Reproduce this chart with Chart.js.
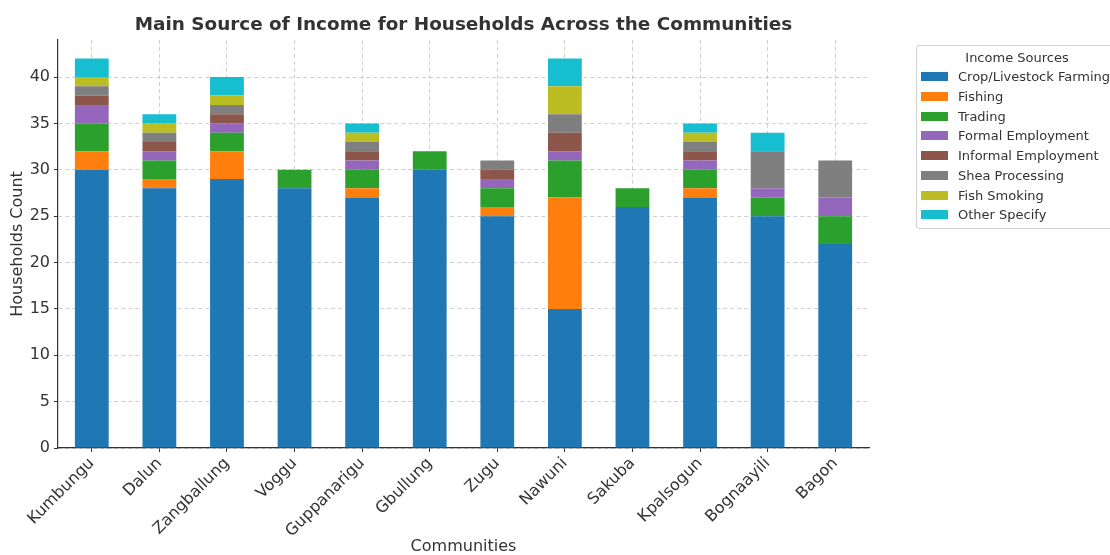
<!DOCTYPE html>
<html>
<head>
<meta charset="utf-8">
<script src="https://cdn.jsdelivr.net/npm/chart.js@4/dist/chart.umd.min.js"></script>
<style>
  html, body { margin: 0; padding: 0; background: #fff; overflow: hidden; width: 1110px; height: 555px; }
  #wrap { position: relative; width: 1110px; height: 555px; }
  canvas { position: absolute; left: 0; top: 0; }
  #legend {
    position: absolute; left: 916px; top: 45px; width: 215px; height: 184px;
    border: 1px solid #d0d0d0; border-radius: 3px; background: rgba(255,255,255,0.9);
    font-family: "DejaVu Sans", sans-serif; font-size: 13px; color: #333; box-sizing: border-box;
  }
  #legend .ttl { position: absolute; top: 4px; left: 0; width: 200px; text-align: center; }
  #legend .row { position: absolute; left: 4px; height: 20px; line-height: 20px; white-space: nowrap; }
  #legend .sw { display: inline-block; width: 27px; height: 9px; vertical-align: middle; margin-right: 10px; position: relative; top: -1px; }
</style>
</head>
<body>
<div id="wrap">
  <canvas id="c" width="1110" height="555"></canvas>
  <div id="legend"></div>
</div>
<script>
// Communities on the x axis
const communities = ["Kumbungu", "Dalun", "Zangballung", "Voggu", "Guppanarigu", "Gbullung",
                     "Zugu", "Nawuni", "Sakuba", "Kpalsogun", "Bognaayili", "Bagon"];

// Household counts per income source, one value per community
const cropLivestock   = [30, 28, 29, 28, 27, 30, 25, 15, 26, 27, 25, 22];
const fishing         = [ 2,  1,  3,  0,  1,  0,  1, 12,  0,  1,  0,  0];
const trading         = [ 3,  2,  2,  2,  2,  2,  2,  4,  2,  2,  2,  3];
const formalEmploy    = [ 2,  1,  1,  0,  1,  0,  1,  1,  0,  1,  1,  2];
const informalEmploy  = [ 1,  1,  1,  0,  1,  0,  1,  2,  0,  1,  0,  0];
const sheaProcessing  = [ 1,  1,  1,  0,  1,  0,  1,  2,  0,  1,  4,  4];
const fishSmoking     = [ 1,  1,  1,  0,  1,  0,  0,  3,  0,  1,  0,  0];
const otherSpecify    = [ 2,  1,  2,  0,  1,  0,  0,  3,  0,  1,  2,  0];

const sourceNames = ["Crop/Livestock Farming", "Fishing", "Trading", "Formal Employment",
                     "Informal Employment", "Shea Processing", "Fish Smoking", "Other Specify"];
const sourceValues = [cropLivestock, fishing, trading, formalEmploy,
                      informalEmploy, sheaProcessing, fishSmoking, otherSpecify];
const sourceColors = ["#1f77b4", "#ff7f0e", "#2ca02c", "#9467bd",
                      "#8c564b", "#7f7f7f", "#bcbd22", "#17becf"];

const yTickStep = 5;
const yMax = 44;

const FONT = "'DejaVu Sans', sans-serif";
const TEXT = "#333333";
const GRID = "rgba(170,170,170,0.55)";

const datasets = sourceNames.map((name, i) => ({
  label: name,
  data: sourceValues[i],
  backgroundColor: sourceColors[i],
  borderWidth: 0,
  barPercentage: 0.5,
  categoryPercentage: 1.0
}));

const chart = new Chart(document.getElementById("c"), {
  type: "bar",
  data: { labels: communities, datasets },
  options: {
    responsive: false,
    animation: false,
    devicePixelRatio: 1,
    layout: { padding: { left: 0, right: 241, top: 0, bottom: 0 } },
    plugins: {
      legend: { display: false },
      tooltip: { enabled: false },
      title: {
        display: true,
        fullSize: false,
        text: "Main Source of Income for Households Across the Communities",
        color: TEXT,
        font: { family: FONT, size: 18.4, weight: "bold", lineHeight: 1.2 },
        padding: { top: 14, bottom: 3.9 }
      }
    },
    scales: {
      x: {
        stacked: true,
        z: 1,
        grid: {
          display: true, offset: false, drawOnChartArea: true, drawTicks: true,
          color: GRID, lineWidth: 1, tickLength: 4, tickColor: TEXT, tickWidth: 1
        },
        border: { display: true, color: TEXT, width: 1.2, dash: [4, 3] },
        ticks: {
          color: TEXT, font: { family: FONT, size: 16 },
          minRotation: 45, maxRotation: 45, padding: 2, autoSkip: false
        },
        title: {
          display: true, text: "Communities", color: TEXT,
          font: { family: FONT, size: 16, lineHeight: 1.2 }, padding: { top: 0, bottom: -1 }
        },
        afterFit: (s) => { s.height = 107; }
      },
      y: {
        stacked: true,
        min: 0,
        max: yMax,
        z: 1,
        grid: {
          display: true, drawTicks: true, color: GRID, lineWidth: 1,
          tickLength: 4, tickColor: TEXT, tickWidth: 1
        },
        border: { display: true, color: TEXT, width: 1.2, dash: [4, 3] },
        ticks: { stepSize: yTickStep, color: TEXT, font: { family: FONT, size: 16 }, padding: 4 },
        afterBuildTicks: (s) => { s.ticks = s.ticks.filter(t => t.value % yTickStep === 0); },
        title: {
          display: true, text: "Households Count", color: TEXT,
          font: { family: FONT, size: 16, lineHeight: 1.2 }, padding: { top: 8.5, bottom: 0 }
        },
        afterFit: (s) => { s.width = 58; }
      }
    }
  }
});

// Legend listing every income source with its colour
(function buildLegend() {
  const box = document.getElementById("legend");
  const t = document.createElement("div");
  t.className = "ttl";
  t.textContent = "Income Sources";
  box.appendChild(t);
  chart.data.datasets.forEach((ds, i) => {
    const row = document.createElement("div");
    row.className = "row";
    row.style.top = (21 + i * 19.75) + "px";
    const sw = document.createElement("span");
    sw.className = "sw";
    sw.style.background = ds.backgroundColor;
    row.appendChild(sw);
    row.appendChild(document.createTextNode(ds.label));
    box.appendChild(row);
  });
})();
</script>
</body>
</html>
